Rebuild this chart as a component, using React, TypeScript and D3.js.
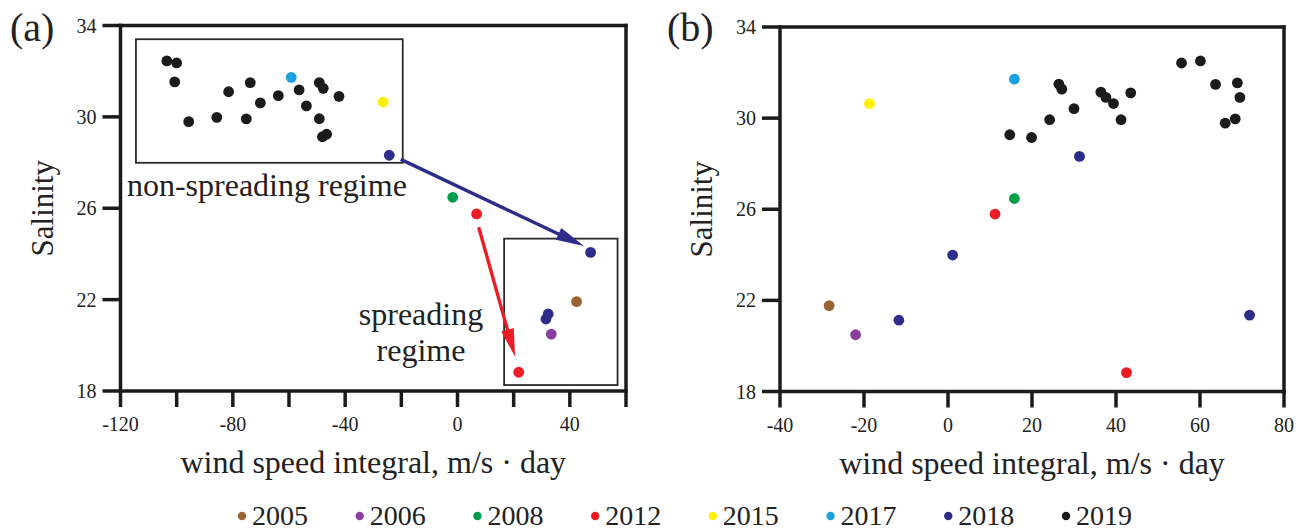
import React from "react";
import * as d3 from "d3";

const W = 1309;
const H = 532;

const years = ["2005", "2006", "2008", "2012", "2015", "2017", "2018", "2019"];
const yearColors = ["#9a6434", "#8b3e9f", "#009c4a", "#ec1c24", "#fff000", "#1ba0e2", "#2e2c8a", "#1b1b1b"];

// Panel (a): [year, wind speed integral (m/s·day), salinity]
const pointsA: [string, number, number][] = [
  ["2019", -103.5, 32.45], ["2019", -100.0, 32.36], ["2019", -100.7, 31.53],
  ["2019", -95.7, 29.79], ["2019", -85.7, 29.98], ["2019", -81.5, 31.1],
  ["2019", -75.2, 29.91], ["2019", -73.8, 31.5], ["2019", -70.2, 30.61],
  ["2019", -63.8, 30.93], ["2019", -56.4, 31.18], ["2019", -53.8, 30.48],
  ["2019", -49.2, 31.5], ["2019", -47.8, 31.25], ["2019", -49.2, 29.92],
  ["2019", -42.2, 30.9], ["2019", -46.6, 29.24], ["2019", -48.1, 29.13],
  ["2017", -59.2, 31.73],
  ["2015", -26.5, 30.64],
  ["2018", -24.3, 28.32], ["2018", 47.4, 24.07], ["2018", 32.3, 21.37], ["2018", 31.5, 21.15],
  ["2008", -1.7, 26.48],
  ["2012", 6.8, 25.75], ["2012", 21.8, 18.82],
  ["2005", 42.4, 21.91],
  ["2006", 33.4, 20.49],
];

// Panel (b): [year, wind speed integral (m/s·day), salinity]
const pointsB: [string, number, number][] = [
  ["2019", 14.7, 29.27], ["2019", 19.9, 29.15], ["2019", 24.2, 29.93],
  ["2019", 26.4, 31.49], ["2019", 27.1, 31.27], ["2019", 30.0, 30.42],
  ["2019", 36.4, 31.14], ["2019", 37.6, 30.91], ["2019", 39.4, 30.64],
  ["2019", 41.2, 29.93], ["2019", 43.5, 31.11], ["2019", 55.6, 32.42],
  ["2019", 60.1, 32.51], ["2019", 63.7, 31.48], ["2019", 68.9, 31.55],
  ["2019", 69.5, 30.91], ["2019", 66.0, 29.78], ["2019", 68.4, 29.97],
  ["2017", 15.8, 31.71],
  ["2015", -18.7, 30.64],
  ["2018", 31.3, 28.32], ["2018", 1.1, 23.99], ["2018", -11.7, 21.13], ["2018", 71.8, 21.35],
  ["2008", 15.8, 26.47],
  ["2012", 11.2, 25.79], ["2012", 42.5, 18.83],
  ["2005", -28.3, 21.77],
  ["2006", -22.0, 20.49],
];

const yDomain: [number, number] = [18, 34];
const yTicks = [18, 22, 26, 30, 34];
const xDomainA: [number, number] = [-120, 60];
const xTicksA = [-120, -100, -80, -60, -40, -20, 0, 20, 40, 60];
const xLabelsA = [-120, -80, -40, 0, 40];
const xDomainB: [number, number] = [-40, 80];
const xTicksB = [-40, -20, 0, 20, 40, 60, 80];
const xLabelsB = [-40, -20, 0, 20, 40, 60, 80];

// Annotations of panel (a), in data units
const boxesA = [
  { x0: -114.5, x1: -19.5, y0: 27.99, y1: 33.4 },
  { x0: 16.6, x1: 57.0, y0: 18.26, y1: 24.67 },
];
const arrowsA = [
  { from: [-20.2, 28.14], to: [45.0, 24.35], color: "#2e2c8a" },
  { from: [7.55, 25.17], to: [20.5, 19.5], color: "#ec1c24" },
];

const FONT = "'Liberation Serif', 'Times New Roman', Times, serif";
const INK = "#1b1b1b";
const AXW = 3.5;

type PanelProps = {
  left: number;
  right: number;
  top: number;
  bottom: number;
  xDomain: [number, number];
  xTicks: number[];
  xLabels: number[];
  points: [string, number, number][];
  tag: string;
  tagX: number;
  annotate?: boolean;
};

function Arrow({ x1, y1, x2, y2, color }: { x1: number; y1: number; x2: number; y2: number; color: string }) {
  const ang = Math.atan2(y2 - y1, x2 - x1);
  const len = 28;
  const hw = 6.5;
  const bx = x2 - len * Math.cos(ang);
  const by = y2 - len * Math.sin(ang);
  const px = -Math.sin(ang) * hw;
  const py = Math.cos(ang) * hw;
  return (
    <g>
      <line x1={x1} y1={y1} x2={bx + 4 * Math.cos(ang)} y2={by + 4 * Math.sin(ang)} stroke={color} strokeWidth={3.4} />
      <polygon points={`${x2},${y2} ${bx + px},${by + py} ${bx - px},${by - py}`} fill={color} />
    </g>
  );
}

function Panel(p: PanelProps) {
  const x = d3.scaleLinear().domain(p.xDomain).range([p.left, p.right]);
  const y = d3.scaleLinear().domain(yDomain).range([p.bottom, p.top]);
  const color = d3.scaleOrdinal<string, string>().domain(years).range(yearColors);
  const tickLenY = 18;
  const tickLenX = 16;
  const cx = (p.left + p.right) / 2;
  const cy = (p.top + p.bottom) / 2;
  return (
    <g>
      {/* frame */}
      <line x1={p.left} y1={p.top} x2={p.right} y2={p.top} stroke={INK} strokeWidth={AXW} strokeLinecap="square" />
      <line x1={p.right} y1={p.top} x2={p.right} y2={p.bottom} stroke={INK} strokeWidth={AXW} strokeLinecap="square" />
      <line x1={p.left} y1={p.top} x2={p.left} y2={p.bottom} stroke={INK} strokeWidth={AXW} strokeLinecap="square" />
      <line x1={p.left} y1={p.bottom} x2={p.right} y2={p.bottom} stroke={INK} strokeWidth={AXW} strokeLinecap="square" />
      {yTicks.map((t) => (
        <g key={"y" + t}>
          <line x1={p.left - tickLenY} x2={p.left} y1={y(t)} y2={y(t)} stroke={INK} strokeWidth={AXW} />
          <text x={p.left - 24} y={y(t)} dy="0.35em" textAnchor="end" fontSize={20} fontFamily={FONT} fill="#222">
            {t}
          </text>
        </g>
      ))}
      {p.xTicks.map((t) => (
        <line key={"x" + t} x1={x(t)} x2={x(t)} y1={p.bottom} y2={p.bottom + tickLenX} stroke={INK} strokeWidth={AXW} />
      ))}
      {p.xLabels.map((t) => (
        <text key={"xl" + t} x={x(t)} y={p.bottom + 40} textAnchor="middle" fontSize={20} fontFamily={FONT} fill="#222">
          {t}
        </text>
      ))}
      <text x={cx} y={p.bottom + 82} textAnchor="middle" fontSize={32} fontFamily={FONT} fill="#222">
        wind speed integral, m/s · day
      </text>
      <text transform={`translate(${p.left - 68},${cy}) rotate(-90)`} textAnchor="middle" fontSize={31} fontFamily={FONT} fill="#222">
        Salinity
      </text>
      <text x={p.tagX} y={41} fontSize={40} fontFamily={FONT} fill="#222">
        {p.tag}
      </text>

      {p.annotate && (
        <g>
          {boxesA.map((b, i) => (
            <rect key={"b" + i} x={x(b.x0)} y={y(b.y1)} width={x(b.x1) - x(b.x0)} height={y(b.y0) - y(b.y1)} fill="none" stroke="#2a2a2a" strokeWidth={1.8} />
          ))}
          {arrowsA.map((a, i) => (
            <Arrow key={"a" + i} x1={x(a.from[0])} y1={y(a.from[1])} x2={x(a.to[0])} y2={y(a.to[1])} color={a.color} />
          ))}
          <text x={x(-114.5) - 9} y={196} fontSize={32} fontFamily={FONT} fill="#222">
            non-spreading regime
          </text>
          <text x={421} y={325} textAnchor="middle" fontSize={32} fontFamily={FONT} fill="#222">
            spreading
          </text>
          <text x={421} y={361} textAnchor="middle" fontSize={32} fontFamily={FONT} fill="#222">
            regime
          </text>
        </g>
      )}

      {p.points.map((d, i) => (
        <circle key={i} cx={x(d[1])} cy={y(d[2])} r={5.4} fill={color(d[0])} />
      ))}
    </g>
  );
}

export default function App() {
  const color = d3.scaleOrdinal<string, string>().domain(years).range(yearColors);
  const lx = d3.scalePoint<string>().domain(years).range([242, 1066]);
  return (
    <svg width={W} height={H} style={{ position: "absolute", left: 0, top: 0, background: "#fff" }}>
      <rect width={W} height={H} fill="#fff" />
      <Panel left={120.5} right={626} top={25.5} bottom={391} xDomain={xDomainA} xTicks={xTicksA} xLabels={xLabelsA} points={pointsA} tag="(a)" tagX={10} annotate />
      <Panel left={780} right={1284} top={27} bottom={391.5} xDomain={xDomainB} xTicks={xTicksB} xLabels={xLabelsB} points={pointsB} tag="(b)" tagX={667} />
      {years.map((yr) => (
        <g key={yr}>
          <circle cx={lx(yr)} cy={516} r={4.2} fill={color(yr)} />
          <text x={(lx(yr) as number) + 10} y={525} fontSize={28} fontFamily={FONT} fill="#222">
            {yr}
          </text>
        </g>
      ))}
    </svg>
  );
}
